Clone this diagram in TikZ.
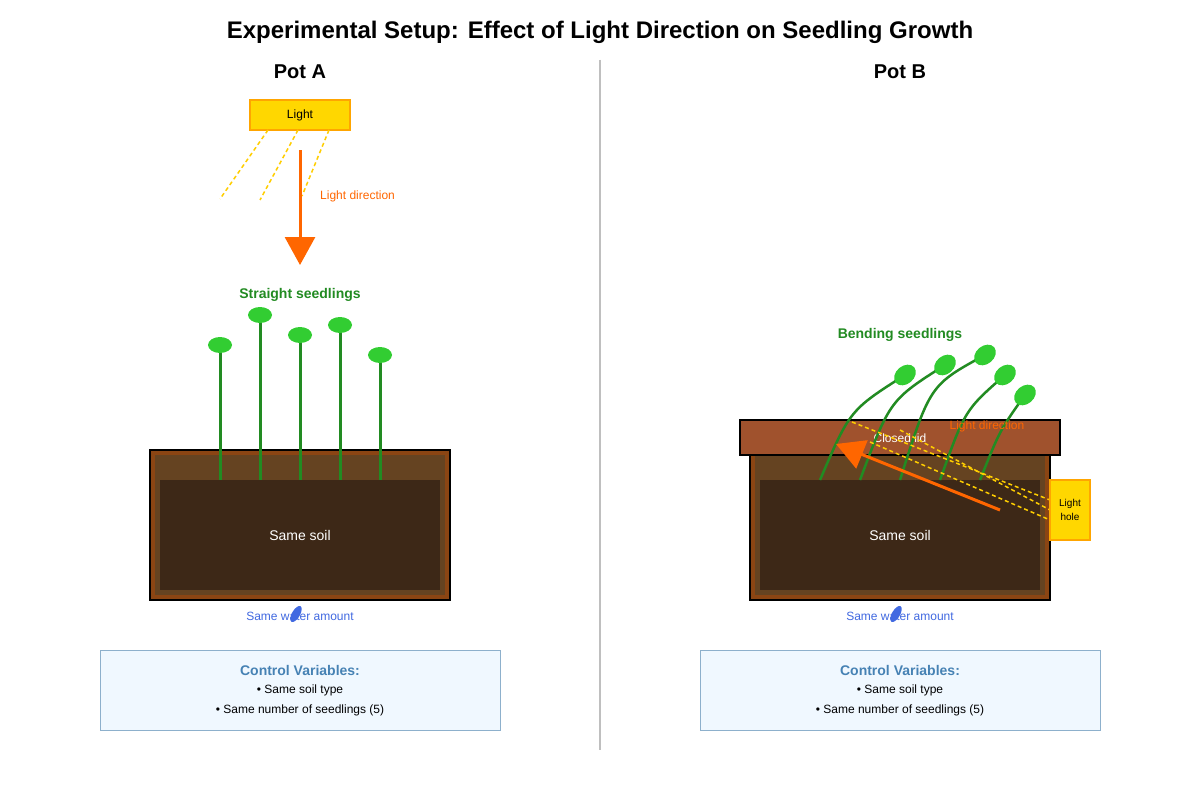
\documentclass[tikz,border=0pt]{standalone}
\usepackage{fontspec}
\setmainfont{Liberation Sans}
\usetikzlibrary{arrows.meta}
\definecolor{potbr}{HTML}{8B4513}
\definecolor{potin}{HTML}{654321}
\definecolor{soil}{HTML}{3D2817}
\definecolor{lid}{HTML}{A0522D}
\definecolor{stem}{HTML}{228B22}
\definecolor{leaf}{HTML}{32CD32}
\definecolor{gold}{HTML}{FFD700}
\definecolor{orng}{HTML}{FFA500}
\definecolor{arr}{HTML}{FF6600}
\definecolor{wat}{HTML}{4169E1}
\definecolor{cbox}{HTML}{F0F8FF}
\definecolor{cbord}{HTML}{8DB0CC}
\definecolor{ctit}{HTML}{4682B4}
\begin{document}
\begin{tikzpicture}[x=1pt,y=-1pt,
  txt/.style={inner sep=0pt,font=\fontsize{#1}{#1}\selectfont},
  stemline/.style={stem,line width=3pt},
  leafs/.style={fill=leaf,draw=none},
  ray/.style={gold!90!orange,line width=1.5pt,dash pattern=on 4pt off 3pt},
  larr/.style={arr,line width=3pt,-{Triangle[width=30pt,length=28pt]}}]
\useasboundingbox (0,0) rectangle (1200,800);
\fill[white] (0,0) rectangle (1200,800);
\node[txt=24,font=\bfseries\fontsize{24}{24}\selectfont] (title) at (600,32) {Experimental Setup: Effect of Light Direction on Seedling Growth};
\draw[gray!50,line width=1.5pt] (600,60) -- (600,750);
% ---- Pot A
\node[txt=20,font=\bfseries\fontsize{20}{20}\selectfont] (pa) at (300,72) {Pot A};
\node[draw=orng,fill=gold,line width=1.5pt,minimum width=100pt,minimum height=30pt,inner sep=0pt,font=\fontsize{12}{12}\selectfont] (la) at (300,115) {Light};
\draw[ray] (268,130) -- (220,199);
\draw[ray] (298,130) -- (260,200);
\draw[ray] (329,130) -- (302,196);
\coordinate (a1) at (300,150); \coordinate (a2) at (300,265);
\draw[larr] (a1) -- (a2);
\node[txt=12,text=arr,anchor=west] (lda) at (320,196) {Light direction};
\node[txt=14,font=\bfseries\fontsize{14}{14}\selectfont,text=stem] (ssa) at (300,295) {Straight seedlings};
\draw[fill=potbr,line width=1.5pt] (150,450) rectangle (450,600);
\fill[potin] (155,455) rectangle (445,595);
\fill[soil] (160,480) rectangle (440,590);
\foreach \x/\y in {220/345,260/315,300/335,340/325,380/355}{
  \draw[stemline] (\x,480) -- (\x,\y);
  \fill[leafs] (\x,\y) ellipse [x radius=12pt,y radius=8pt];
}
\node[txt=14,text=white] (sa) at (300,535) {Same soil};
\node[txt=12,text=wat] (wa) at (300,616) {Same water amount};
\fill[wat,rotate around={-30:(296,614)}] (296,614) ellipse [x radius=4pt,y radius=9pt];
\node[draw=cbord,fill=cbox,line width=1pt,minimum width=400pt,minimum height=80pt,inner sep=0pt] (ca) at (300,690) {};
\node[txt=14,font=\bfseries\fontsize{14}{14}\selectfont,text=ctit] at (300,670) {Control Variables:};
\node[txt=12] at (300,690) {• Same soil type};
\node[txt=12] at (300,710) {• Same number of seedlings (5)};
% ---- Pot B
\node[txt=20,font=\bfseries\fontsize{20}{20}\selectfont] (pb) at (900,72) {Pot B};
\node[txt=14,font=\bfseries\fontsize{14}{14}\selectfont,text=stem] (bsb) at (900,335) {Bending seedlings};
\draw[fill=potbr,line width=1.5pt] (750,455) rectangle (1050,600);
\fill[potin] (755,455) rectangle (1045,595);
\fill[soil] (760,480) rectangle (1040,590);
\draw[fill=lid,line width=1.5pt] (740,420) rectangle (1060,455);
\node[txt=12,text=white] (cl) at (900,438) {Closed lid};
\foreach \x/\tx/\ty/\cx/\cy in {820/905/375/850/410,860/945/365/890/400,900/985/355/930/385,940/1005/375/965/410,980/1025/395/1000/430}{
  \draw[stemline,line width=2.5pt] (\x,480) .. controls (\cx,\cy) .. (\tx,\ty);
  \fill[leafs,rotate around={40:(\tx,\ty)}] (\tx,\ty) ellipse [x radius=12pt,y radius=9pt];
}
\draw[ray] (852,422) -- (1050,500);
\draw[ray] (900,430) -- (1050,510);
\draw[ray] (870,442) -- (1050,520);
\node[draw=orng,fill=gold,line width=1.5pt,minimum width=40pt,minimum height=60pt,inner sep=0pt,align=center,font=\fontsize{10}{14}\selectfont] (lh) at (1070,510) {Light\\hole};
\node[txt=12,text=arr] (ldb) at (987,426) {Light direction};
\coordinate (b1) at (1000,510); \coordinate (b2) at (836,444);
\draw[larr] (b1) -- (b2);
\node[txt=14,text=white] (sb) at (900,535) {Same soil};
\node[txt=12,text=wat] (wb) at (900,616) {Same water amount};
\fill[wat,rotate around={-30:(896,614)}] (896,614) ellipse [x radius=4pt,y radius=9pt];
\node[draw=cbord,fill=cbox,line width=1pt,minimum width=400pt,minimum height=80pt,inner sep=0pt] (cb) at (900,690) {};
\node[txt=14,font=\bfseries\fontsize{14}{14}\selectfont,text=ctit] at (900,670) {Control Variables:};
\node[txt=12] at (900,690) {• Same soil type};
\node[txt=12] at (900,710) {• Same number of seedlings (5)};
\end{tikzpicture}
\end{document}
